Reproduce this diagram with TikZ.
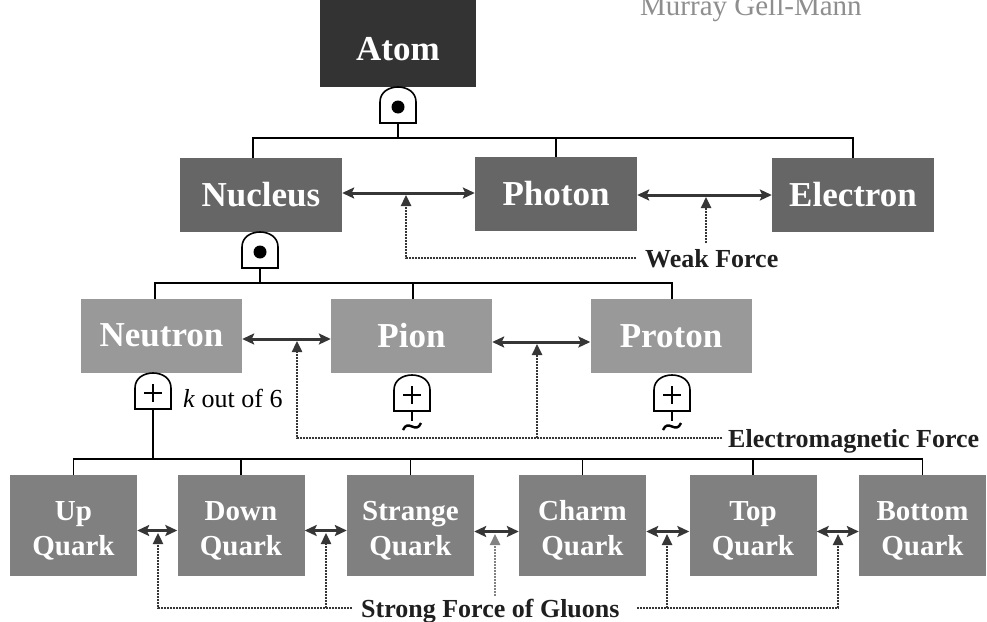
\documentclass[tikz,border=0pt]{standalone}
\usepackage{fontspec}
\setmainfont{Liberation Serif}
\usetikzlibrary{arrows.meta,calc}
\definecolor{cAtom}{HTML}{333333}
\definecolor{cL1}{HTML}{666666}
\definecolor{cL2}{HTML}{999999}
\definecolor{cQ}{HTML}{808080}
\definecolor{cArr}{HTML}{363636}
\definecolor{cName}{HTML}{8E8E8E}
\tikzset{
  box/.style={draw=none, inner sep=0pt, text=white, align=center},
  atombox/.style={box, fill=cAtom, minimum width=156pt, minimum height=88pt},
  lvlone/.style={box, fill=cL1, minimum width=162pt, minimum height=74pt, font=\bfseries\fontsize{35}{40}\selectfont},
  lvltwo/.style={box, fill=cL2, minimum width=161pt, minimum height=74pt, font=\bfseries\fontsize{35}{40}\selectfont},
  quark/.style={box, fill=cQ, minimum width=127pt, minimum height=101pt},
  boxtext/.style={inner sep=0pt, text=white, align=center, font=\bfseries\fontsize{35}{40}\selectfont},
  qtext/.style={inner sep=0pt, text=white, align=center, font=\bfseries\fontsize{29}{35}\selectfont},
  bus/.style={draw=black, line width=1.6pt},
  link/.style={draw=cArr, line width=3pt, {Stealth[length=12pt,width=11pt,inset=2.5pt]}-{Stealth[length=12pt,width=11pt,inset=2.5pt]}},
  force/.style={draw=cArr, line width=2.4pt, dash pattern=on 2.2pt off 0.8pt, -{Triangle[length=11pt,width=10pt]}},
  flabel/.style={anchor=base west, inner sep=0pt, font=\bfseries\fontsize{26}{30}\selectfont, text=black!88},
  gatebody/.pic={\draw[line width=1.6pt, fill=white] (-18,36) -- (-18,15) .. controls (-18,5) and (-9,0) .. (0,0) .. controls (9,0) and (18,5) .. (18,15) -- (18,36) -- cycle;},
  andgate/.pic={\pic{gatebody}; \fill (0,20) circle[radius=6.5pt];},
  orgate/.pic={\pic{gatebody}; \draw[line width=2.8pt] (-9,20) -- (9,20) (0,11) -- (0,29);},
  tildeout/.pic={\draw[line width=1.6pt] (0,36) -- (0,46); \draw[line width=2.4pt] (-9,55) .. controls (-4,43) and (4,60) .. (9,48);}
}
\begin{document}
\begin{tikzpicture}[x=1pt,y=-1pt]
\useasboundingbox (0,0) rectangle (987,621);
\fill[white] (0,0) rectangle (987,621);

% author text (cut by the top edge, as in the source)
\node[anchor=base west, inner sep=0pt, text=cName, font=\fontsize{29}{32}\selectfont] (author) at (640,15) {Murray Gell-Mann};

% level 0
\node[atombox] (atom) at (398,43) {};
\node[boxtext] (atomtxt) at (398,49) {Atom};
\pic at (398,87) {andgate};
\coordinate (g1) at (398,123);
\coordinate (b1) at (398,138);

% level 1
\node[lvlone] (nuc) at (261,195) {Nucleus};
\node[lvlone] (pho) at (556,194) {Photon};
\node[lvlone] (ele) at (853,195) {Electron};
\coordinate (nucTop) at (253,158);
\draw[bus] (g1) -- (b1);
\draw[bus] (nucTop) |- (b1) -| (ele.north);
\draw[bus] (pho.north) -- (pho.north |- b1);

\draw[link] ([yshift=2pt]nuc.east) -- ([yshift=1pt]pho.west);
\draw[link] ([yshift=-1pt]pho.east) -- (ele.west);

\node[flabel] (weak) at (645,267) {Weak Force};
\coordinate (wkE) at (636,258);
\coordinate (wkA) at (406,258);
\coordinate (wkT1) at (406,195);
\coordinate (wkB) at (706,243);
\coordinate (wkT2) at (706,197);
\draw[force] (wkE) -- (wkA) -- (wkT1);
\draw[force] (wkB) -- (wkT2);

% gate under nucleus
\pic at (260,232) {andgate};
\coordinate (g2) at (260,268);
\coordinate (b2) at (260,283);
\draw[bus] (g2) -- (b2);

% level 2
\node[lvltwo] (neu) at (161.5,335.5) {Neutron};
\node[lvltwo] (pion) at (411.5,336) {Pion};
\node[lvltwo] (pro) at (671,336) {Proton};
\coordinate (neuTop) at (155,299);
\coordinate (pionTop) at (413,299);
\coordinate (proTop) at (672,299);
\draw[bus] (neuTop) |- (b2) -| (proTop);
\draw[bus] (pionTop) -- (pionTop |- b2);

\draw[link] ([yshift=-3.5pt]neu.east) -- ([yshift=-3pt]pion.west);
\draw[link] ([yshift=-6pt]pion.east) -- ([yshift=-6pt]pro.west);

\node[flabel] (em) at (728,447) {Electromagnetic Force};
\coordinate (emE) at (722,438);
\coordinate (emA) at (297,438);
\coordinate (emT1) at (297,341);
\coordinate (emB) at (537,438);
\coordinate (emT2) at (537,344);
\draw[force] (emE) -- (emA) -- (emT1);
\draw[force] (emB) -- (emT2);

% gates under level 2
\pic at (153,373) {orgate};
\node[anchor=base west, inner sep=0pt, font=\fontsize{26}{30}\selectfont] (kof) at (183,407) {\textit{k} out of 6};
\coordinate (g3) at (153,409);
\coordinate (b3) at (153,459);
\draw[bus] (g3) -- (b3);

\pic at (412,375) {orgate};
\pic at (412,375) {tildeout};
\pic at (672,375) {orgate};
\pic at (672,375) {tildeout};

% quarks
\node[quark] (up) at (73.5,525.5) {};
\node[quark] (down) at (241,525.5) {};
\node[quark] (str) at (410.5,525.5) {};
\node[quark] (cha) at (582.5,525.5) {};
\node[quark] (top) at (753,525.5) {};
\node[quark] (bot) at (922.5,525.5) {};
\node[qtext] (upt) at ([yshift=-5pt]up.center) {Up\\Quark};
\node[qtext] (downt) at ([yshift=-5pt]down.center) {Down\\Quark};
\node[qtext] (strt) at ([yshift=-5pt]str.center) {Strange\\Quark};
\node[qtext] (chat) at ([yshift=-5pt]cha.center) {Charm\\Quark};
\node[qtext] (topt) at ([yshift=-5pt]top.center) {Top\\Quark};
\node[qtext] (bott) at ([yshift=-5pt]bot.center) {Bottom\\Quark};
\draw[bus] (up.north) |- (b3) -| (bot.north);
\foreach \q in {down,str,cha,top}{
  \draw[bus] (\q.north) -- (\q.north |- b3);
}

\draw[link] ([yshift=-5pt]up.east) -- ([yshift=-5pt]down.west);
\draw[link] ([yshift=-5pt]down.east) -- ([yshift=-5pt]str.west);
\draw[link] ([yshift=-6pt]str.east) -- ([yshift=-6pt]cha.west);
\draw[link] ([yshift=-6pt]cha.east) -- ([yshift=-6pt]top.west);
\draw[link] ([yshift=-6pt]top.east) -- ([yshift=-6pt]bot.west);

\node[flabel] (strong) at (361,617) {Strong Force of Gluons};
\coordinate (sfE) at (352,608);
\coordinate (sfA) at (158,608);
\coordinate (sfT1) at (158,533);
\coordinate (sfB) at (326,608);
\coordinate (sfT2) at (326,533);
\coordinate (sfF) at (637,608);
\coordinate (sfC) at (838,608);
\coordinate (sfT5) at (838,534);
\coordinate (sfD) at (667,608);
\coordinate (sfT4) at (667,534);
\coordinate (sfG) at (495,596);
\coordinate (sfT3) at (495,534);
\draw[force] (sfE) -- (sfA) -- (sfT1);
\draw[force] (sfB) -- (sfT2);
\draw[force] (sfF) -- (sfC) -- (sfT5);
\draw[force] (sfD) -- (sfT4);
\draw[force, draw=cL2!85!black] (sfG) -- (sfT3);
\end{tikzpicture}
\end{document}
